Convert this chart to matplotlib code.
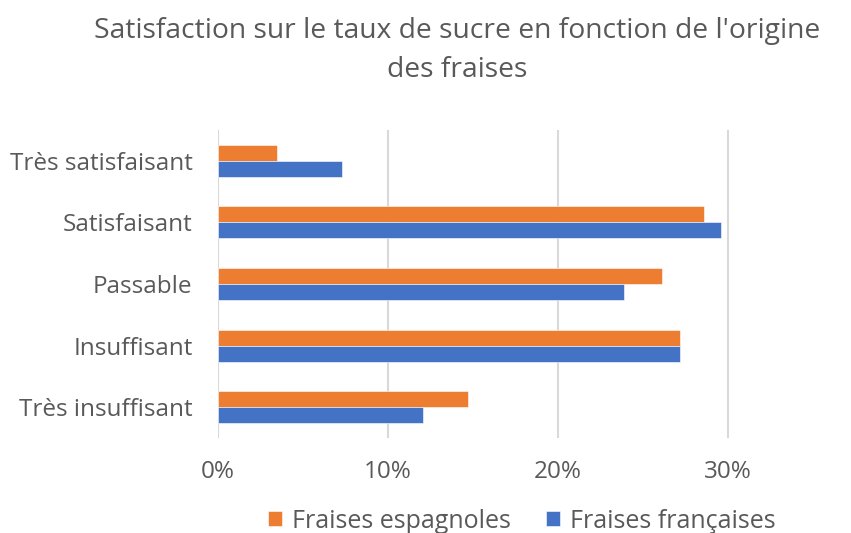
import matplotlib
matplotlib.use("Agg")
import matplotlib.pyplot as plt
import numpy as np
from matplotlib.ticker import FuncFormatter

categories = ["Très satisfaisant", "Satisfaisant", "Passable", "Insuffisant", "Très insuffisant"]
espagnoles = [3.5, 28.6, 26.1, 27.2, 14.7]
francaises = [7.3, 29.6, 23.9, 27.2, 12.1]
series_names = ["Fraises espagnoles", "Fraises françaises"]
x_ticks = [0, 10, 20, 30]

plt.rcParams['font.family'] = ['Open Sans', 'DejaVu Sans']
text_color = "#595959"

fig = plt.figure(figsize=(8.51, 5.33), dpi=100)
ax = fig.add_axes([0.2556, 0.178, 0.7, 0.578])

y = np.arange(len(categories))
h = 0.26
ax.barh(y - h / 2, espagnoles, height=h, color="#ED7D31", label=series_names[0],
        edgecolor="white", linewidth=0.4, zorder=3)
ax.barh(y + h / 2, francaises, height=h, color="#4472C4", label=series_names[1],
        edgecolor="white", linewidth=0.4, zorder=3)

ax.set_ylim(len(categories) - 0.5, -0.5)
ax.set_xlim(0, 35)
ax.set_xticks(x_ticks)
ax.xaxis.set_major_formatter(FuncFormatter(lambda v, p: f"{v:.0f}%"))
ax.set_yticks(y)
ax.set_yticklabels(categories)
ax.grid(axis="x", color="#D9D9D9", linewidth=1.5, zorder=0)
for s in ax.spines.values():
    s.set_visible(False)
ax.tick_params(axis="both", length=0, colors=text_color, labelsize=17.5)
ax.tick_params(axis="x", pad=16)
ax.tick_params(axis="y", pad=18)

fig.text(0.537, 0.968, "Satisfaction sur le taux de sucre en fonction de l'origine\ndes fraises",
         ha="center", va="top", fontsize=20.3, color=text_color, linespacing=1.5)

leg = fig.legend(loc="center", bbox_to_anchor=(0.613, 0.022), ncol=2, frameon=False,
                 fontsize=18, handlelength=0.55, handleheight=0.55, columnspacing=1.4,
                 handletextpad=0.4, labelcolor=text_color)

fig.savefig("out.png", dpi=100)
